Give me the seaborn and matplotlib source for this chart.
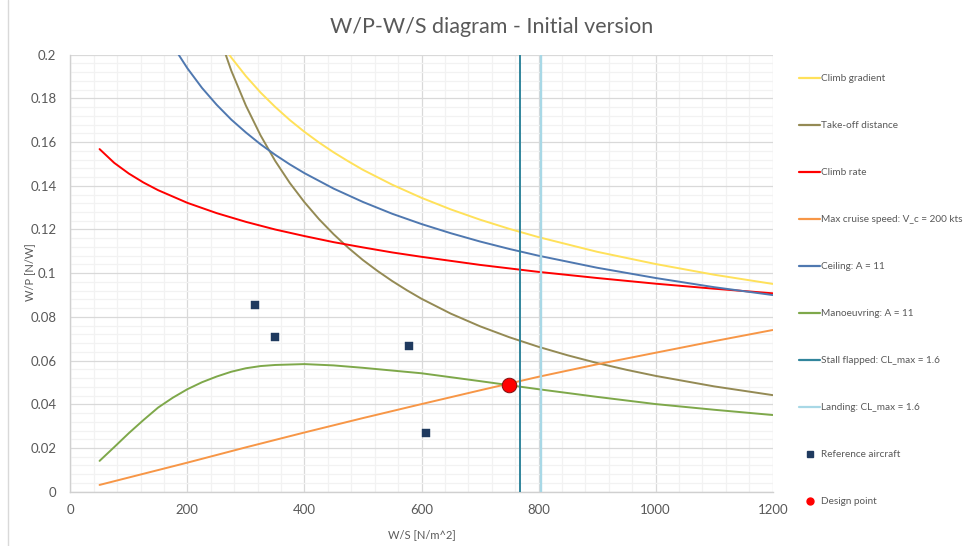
import matplotlib
matplotlib.use("Agg")
import matplotlib.pyplot as plt
from matplotlib.lines import Line2D
from matplotlib.ticker import MultipleLocator, FuncFormatter
import seaborn as sns
import pandas as pd

# ---------------- data ----------------
climb_grad_ws = [250, 275, 300, 325, 350, 375, 400, 425, 450, 475, 500, 550, 600, 650, 700, 750, 800, 900,
                 1000, 1100, 1200]
climb_grad_wp = [0.2083, 0.1987, 0.1902, 0.1827, 0.1761, 0.1701, 0.1647, 0.1598, 0.1553, 0.1512, 0.1473,
                 0.1405, 0.1345, 0.1292, 0.1245, 0.1203, 0.1165, 0.1098, 0.1042, 0.0993, 0.0951]

takeoff_ws = [250, 275, 300, 325, 350, 375, 400, 425, 450, 475, 500, 525, 550, 575, 600, 650, 700, 750, 800,
              850, 900, 950, 1000, 1100, 1200]
takeoff_wp = [0.2120, 0.1927, 0.1767, 0.1631, 0.1514, 0.1413, 0.1325, 0.1247, 0.1178, 0.1116, 0.1060,
              0.1010, 0.0964, 0.0922, 0.0883, 0.0815, 0.0757, 0.0707, 0.0663, 0.0624, 0.0589, 0.0558,
              0.0530, 0.0482, 0.0442]

climb_rate_ws = [50, 75, 100, 125, 150, 200, 250, 300, 350, 400, 450, 500, 550, 600, 700, 800, 900, 1000, 1100, 1200]
climb_rate_wp = [0.1568, 0.1505, 0.1456, 0.1415, 0.1380, 0.1322, 0.1275, 0.1235, 0.1200, 0.1170, 0.1142,
                 0.1118, 0.1095, 0.1075, 0.1038, 0.1006, 0.0978, 0.0952, 0.0929, 0.0908]

cruise_ws = [50, 100, 200, 300, 400, 500, 600, 700, 800, 900, 1000, 1100, 1200]
cruise_wp = [0.0031, 0.0065, 0.0133, 0.0203, 0.0271, 0.0337, 0.0401, 0.0464, 0.0526, 0.0583, 0.0636, 0.0689, 0.0740]

ceiling_ws = [175, 200, 225, 250, 275, 300, 325, 350, 375, 400, 450, 500, 550, 600, 650, 700, 750, 800, 900,
              1000, 1100, 1200]
ceiling_wp = [0.2042, 0.1938, 0.1848, 0.1771, 0.1703, 0.1644, 0.1590, 0.1542, 0.1498, 0.1458, 0.1387,
              0.1326, 0.1272, 0.1225, 0.1183, 0.1145, 0.1111, 0.1080, 0.1025, 0.0978, 0.0936, 0.0900]

manoeuvre_ws = [50, 75, 100, 125, 150, 175, 200, 225, 250, 275, 300, 325, 350, 400, 450, 500, 600, 700, 800,
                900, 1000, 1100, 1200]
manoeuvre_wp = [0.0141, 0.0204, 0.0268, 0.0328, 0.0385, 0.0430, 0.0469, 0.0501, 0.0527, 0.0549, 0.0565, 0.0575,
                0.0580, 0.0584, 0.0578, 0.0567, 0.0542, 0.0506, 0.0469, 0.0434, 0.0401, 0.0375, 0.0351]

stall_ws = [767.5, 767.5]
stall_wp = [0.0, 0.2]
landing_ws = [804, 804]
landing_wp = [0.0, 0.2]

ref_ws = [316, 349, 579, 607]
ref_wp = [0.0856, 0.0709, 0.0668, 0.0269]

design_ws = [749]
design_wp = [0.0487]

labels = ["Climb gradient", "Take-off distance", "Climb rate", "Max cruise speed: V_c = 200 kts",
          "Ceiling: A = 11", "Manoeuvring: A = 11", "Stall flapped: CL_max = 1.6",
          "Landing: CL_max = 1.6", "Reference aircraft", "Design point"]
colors = ["#FFE15A", "#948A54", "#FF0000", "#F79646", "#4F78B0", "#7EA84A", "#31859C", "#A8D8E6",
          "#1F3A5F", "#FF0000"]

title = "W/P-W/S diagram - Initial version"
xlabel = "W/S [N/m^2]"
ylabel = "W/P [N/W]"

# ---------------- style ----------------
sns.set_theme(style="white")
plt.rcParams["font.family"] = ["Lato", "DejaVu Sans"]
txt = "#595959"

W, H = 967, 546
fig = plt.figure(figsize=(W / 100, H / 100), dpi=100)
L, R, T, B = 70.3, 772.7, 54.7, 491.7
ax = fig.add_axes([L / W, 1 - B / H, (R - L) / W, (B - T) / H])

series = [
    (climb_grad_ws, climb_grad_wp),
    (takeoff_ws, takeoff_wp),
    (climb_rate_ws, climb_rate_wp),
    (cruise_ws, cruise_wp),
    (ceiling_ws, ceiling_wp),
    (manoeuvre_ws, manoeuvre_wp),
    (stall_ws, stall_wp),
    (landing_ws, landing_wp),
]
widths = [1.4, 1.4, 1.4, 1.4, 1.4, 1.4, 1.4, 1.7]
for (xs, ys), lab, col, lw in zip(series, labels[:8], colors[:8], widths):
    df = pd.DataFrame({"ws": xs, "wp": ys})
    sns.lineplot(data=df, x="ws", y="wp", ax=ax, color=col, lw=lw, sort=False,
                 estimator=None, legend=False, zorder=3)

sns.scatterplot(x=ref_ws, y=ref_wp, ax=ax, marker="s", s=28, color=colors[8],
                edgecolor="#1F3A5F", linewidth=0.3, legend=False, zorder=5)
sns.scatterplot(x=design_ws, y=design_wp, ax=ax, marker="o", s=110, color=colors[9],
                edgecolor="#7F1010", linewidth=0.7, legend=False, zorder=6)

ax.set_xlim(0, 1200)
ax.set_ylim(0, 0.2)
ax.xaxis.set_major_locator(MultipleLocator(200))
ax.xaxis.set_minor_locator(MultipleLocator(40))
ax.yaxis.set_major_locator(MultipleLocator(0.02))
ax.yaxis.set_minor_locator(MultipleLocator(0.004))
ax.grid(which="major", color="#D9D9D9", lw=0.9, zorder=0)
ax.grid(which="minor", color="#F2F2F2", lw=0.9, zorder=0)
ax.set_axisbelow(True)
fmt = FuncFormatter(lambda v, p: f"{v:g}" if abs(v) > 1e-12 else "0")
ax.xaxis.set_major_formatter(fmt)
ax.yaxis.set_major_formatter(fmt)
ax.tick_params(axis="both", which="both", length=0, labelsize=9.5, colors=txt)
ax.tick_params(axis="x", pad=9)
ax.tick_params(axis="y", pad=10)
for s in ["top", "right"]:
    ax.spines[s].set_visible(False)
for s in ["left", "bottom"]:
    ax.spines[s].set_color("#D0D0D0")
    ax.spines[s].set_linewidth(1.0)

ax.set_xlabel(xlabel, fontsize=8, color=txt, labelpad=9)
ax.set_ylabel(ylabel, fontsize=8, color=txt)
ax.yaxis.set_label_coords((35.5 - L) / (R - L), 0.5 + (272 - (T + B) / 2) / (T - B))
fig.text(492 / W, 1 - 27 / H, title, ha="center", va="center", fontsize=15.5, color=txt)

# chart-area border (left edge visible in the reference)
fig.add_artist(Line2D([8.3 / W, 8.3 / W], [0, 1], color="#D9D9D9", lw=1.0))

handles = [Line2D([0], [0], color=c, lw=1.6) for c in colors[:8]]
handles.append(Line2D([0], [0], ls="none", marker="s", markersize=5, color=colors[8]))
handles.append(Line2D([0], [0], ls="none", marker="o", markersize=5, color=colors[9]))
fig.legend(handles, labels, loc="upper left", bbox_to_anchor=(799 / W, 1 - 74 / H),
           frameon=False, fontsize=7.2, labelcolor=txt, handlelength=2.1, handletextpad=0.12,
           labelspacing=3.8, borderpad=0, borderaxespad=0)

fig.savefig("out.png", dpi=100)
